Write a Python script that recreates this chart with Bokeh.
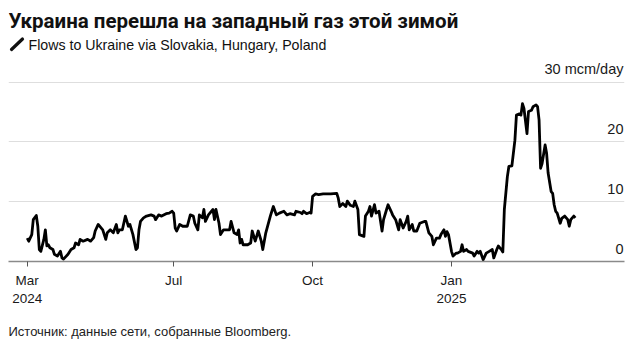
import pandas as pd
from bokeh.plotting import figure
from bokeh.models import Range1d, FixedTicker, Label, CustomJSTickFormatter, Title, Arrow
from bokeh.embed import file_html
from bokeh.resources import INLINE

# ---------------- data ----------------
dates = [
    "2024-03-26", "2024-03-27", "2024-03-29", "2024-03-30",
    "2024-04-01", "2024-04-02", "2024-04-03", "2024-04-04", "2024-04-06", "2024-04-07", "2024-04-08",
    "2024-04-09", "2024-04-10", "2024-04-12", "2024-04-13", "2024-04-15", "2024-04-17", "2024-04-18",
    "2024-04-19", "2024-04-22", "2024-04-24", "2024-04-26", "2024-04-27", "2024-04-29", "2024-04-30",
    "2024-05-02", "2024-05-05", "2024-05-07", "2024-05-09", "2024-05-10", "2024-05-12", "2024-05-15",
    "2024-05-17", "2024-05-18", "2024-05-20", "2024-05-22", "2024-05-24", "2024-05-25", "2024-05-26",
    "2024-05-28", "2024-05-30",
    "2024-06-01", "2024-06-02", "2024-06-04", "2024-06-06", "2024-06-07", "2024-06-08", "2024-06-09",
    "2024-06-11", "2024-06-13", "2024-06-16", "2024-06-18", "2024-06-19", "2024-06-21", "2024-06-23",
    "2024-06-26", "2024-06-28", "2024-06-30",
    "2024-07-01", "2024-07-02", "2024-07-03", "2024-07-05", "2024-07-07", "2024-07-10", "2024-07-12",
    "2024-07-14", "2024-07-15", "2024-07-17", "2024-07-18", "2024-07-20", "2024-07-21", "2024-07-22",
    "2024-07-24", "2024-07-27", "2024-07-28", "2024-07-29", "2024-07-31",
    "2024-08-01", "2024-08-03", "2024-08-07", "2024-08-08", "2024-08-10", "2024-08-12", "2024-08-13",
    "2024-08-14", "2024-08-15", "2024-08-16", "2024-08-19", "2024-08-21", "2024-08-22", "2024-08-24",
    "2024-08-26", "2024-08-28", "2024-08-29", "2024-08-31",
    "2024-09-03", "2024-09-05", "2024-09-07", "2024-09-09", "2024-09-12", "2024-09-14", "2024-09-16",
    "2024-09-19", "2024-09-20", "2024-09-23", "2024-09-24", "2024-09-25", "2024-09-27", "2024-09-29",
    "2024-09-30",
    "2024-10-01", "2024-10-03", "2024-10-05", "2024-10-08", "2024-10-13", "2024-10-17", "2024-10-18",
    "2024-10-19", "2024-10-21", "2024-10-23", "2024-10-24", "2024-10-26", "2024-10-28", "2024-10-29",
    "2024-10-31",
    "2024-11-01", "2024-11-04", "2024-11-05", "2024-11-07", "2024-11-08", "2024-11-09", "2024-11-11",
    "2024-11-12", "2024-11-14", "2024-11-16", "2024-11-17", "2024-11-19", "2024-11-20", "2024-11-22",
    "2024-11-23", "2024-11-25", "2024-11-27", "2024-11-28", "2024-11-30",
    "2024-12-02", "2024-12-03", "2024-12-04", "2024-12-06", "2024-12-07", "2024-12-09", "2024-12-11",
    "2024-12-14", "2024-12-15", "2024-12-17", "2024-12-19", "2024-12-20", "2024-12-22", "2024-12-24",
    "2024-12-25", "2024-12-27", "2024-12-28", "2024-12-29", "2024-12-30",
    "2025-01-01", "2025-01-02", "2025-01-04", "2025-01-05", "2025-01-07", "2025-01-08", "2025-01-09",
    "2025-01-11", "2025-01-12", "2025-01-15", "2025-01-16", "2025-01-18", "2025-01-19", "2025-01-20",
    "2025-01-22", "2025-01-24", "2025-01-26", "2025-01-28", "2025-01-29", "2025-01-31",
    "2025-02-01", "2025-02-03", "2025-02-04", "2025-02-05", "2025-02-07", "2025-02-08", "2025-02-10",
    "2025-02-12", "2025-02-13", "2025-02-15", "2025-02-16", "2025-02-17", "2025-02-18", "2025-02-20",
    "2025-02-21", "2025-02-23", "2025-02-24", "2025-02-26", "2025-02-27", "2025-02-28",
    "2025-03-01", "2025-03-02", "2025-03-04", "2025-03-05", "2025-03-06", "2025-03-08", "2025-03-09",
    "2025-03-10", "2025-03-11", "2025-03-12", "2025-03-14", "2025-03-15", "2025-03-17", "2025-03-19",
    "2025-03-20", "2025-03-21", "2025-03-23", "2025-03-24",
]

flows = [
    3.9, 3.4, 4.5, 7.0,
    7.7, 5.9, 2.0, 1.7, 3.7, 5.3, 2.6, 2.8, 2.3, 2.0, 1.2, 0.9, 1.7, 0.6, 0.4, 1.2, 2.0, 2.3, 3.1, 2.8, 3.7,
    3.4, 3.7, 3.4, 4.0, 5.1, 6.2, 5.3, 3.7, 4.8, 5.3, 4.8, 6.2, 4.8, 5.3, 5.3, 7.6,
    5.9, 6.2, 4.5, 2.0, 2.3, 5.3, 6.7, 7.3, 7.6, 7.8, 7.6, 7.0, 7.8, 7.6, 8.0, 8.1, 8.4,
    8.1, 5.6, 5.1, 6.2, 5.9, 5.9, 7.8, 7.6, 6.4, 5.3, 7.8, 7.3, 8.7, 6.7, 7.8, 8.7, 7.0, 8.7, 6.4,
    4.5, 5.3, 5.3, 6.7, 4.8, 4.5, 5.3, 3.1, 3.7, 2.8, 2.8, 3.1, 5.1, 3.4, 5.1, 3.4, 2.0, 4.8,
    7.6, 9.2, 7.8, 8.1, 8.4, 7.8, 8.0, 7.8, 8.4, 8.2, 8.0, 8.4, 8.0, 8.2, 8.1,
    10.9, 11.3, 11.2, 11.3, 11.3, 11.4, 10.6, 9.2, 9.7, 9.2, 10.1, 9.4, 9.2, 10.1, 8.7,
    4.5, 4.2, 7.6, 8.4, 9.2, 7.6, 9.5, 8.1, 8.4, 5.1, 7.0, 8.7, 9.5, 8.4, 7.8, 7.0, 5.3, 7.0, 5.6,
    6.7, 7.6, 5.3, 6.2, 5.1, 5.1, 6.4, 6.7, 6.7, 4.8, 4.2, 2.8, 3.9, 3.9, 4.5, 5.3, 4.2, 5.0, 4.5,
    1.7, 0.9, 1.4, 1.4, 1.7, 2.8, 1.7, 2.0, 1.7, 1.4, 0.9, 1.7, 1.4, 1.7, 0.3, 1.4, 1.7, 2.0, 0.6, 2.0,
    2.6, 2.0, 1.6, 8.7, 14.2, 15.9, 16.0, 20.3, 24.5, 24.7, 24.5, 26.4, 25.6, 21.4, 25.1, 25.3, 25.9,
    26.2, 25.9, 23.7,
    15.6, 16.4, 19.5, 18.1, 14.8, 11.7, 11.4, 9.5, 8.4, 8.1, 6.4, 7.2, 7.6, 7.0, 5.9, 7.0, 7.6, 7.3,
]
assert len(dates) == len(flows)

x_tick_dates = ["2024-03-26", "2024-07-01", "2024-10-01", "2025-01-01"]
x_tick_labels = ["Mar\n2024", "Jul", "Oct", "Jan\n2025"]
y_ticks = [0, 10, 20, 30]
y_tick_labels = ["0", "10", "20", "30 mcm/day"]

title_text = "Украина перешла на западный газ этой зимой"
subtitle_text = "Flows to Ukraine via Slovakia, Hungary, Poland"
source_text = "Источник: данные сети, собранные Bloomberg."


def ms(d):
    return pd.Timestamp(d).value / 1e6


x_start, x_end = ms("2024-03-13 14:00"), ms("2025-04-25 14:00")

# the frame reaches the top of the canvas so that the heading texts live inside it
p = figure(
    width=642, height=352, x_axis_type="datetime", y_axis_location=None,
    output_backend="svg", toolbar_location=None,
    x_range=Range1d(x_start, x_end), y_range=Range1d(0, 262 / 6),
    min_border_left=8, min_border_right=18, min_border_top=0, min_border_bottom=90,
    background_fill_color="white", border_fill_color="white",
)
p.outline_line_color = None
p.xgrid.grid_line_color = None
p.ygrid.ticker = FixedTicker(ticks=y_ticks)
p.ygrid.grid_line_color = "#dedede"
p.ygrid.grid_line_width = 1

tick_ms = [ms(d) for d in x_tick_dates]
ax = p.xaxis[0]
ax.ticker = FixedTicker(ticks=tick_ms)
ax.formatter = CustomJSTickFormatter(
    args=dict(tvals=tick_ms, tlabels=x_tick_labels),
    code="""
    for (let i = 0; i < tvals.length; i++) {
        if (Math.abs(tvals[i] - tick) < 1000) { return tlabels[i]; }
    }
    return "";
    """,
)
ax.axis_line_color = "#8a8a8a"
ax.axis_line_width = 1.5
ax.major_tick_line_color = "#555555"
ax.major_tick_line_width = 1
ax.major_tick_in = 0
ax.major_tick_out = 5
ax.minor_tick_line_color = None
ax.major_label_standoff = 6
ax.major_label_text_font = "Liberation Sans"
ax.major_label_text_font_size = "13.5px"
ax.major_label_text_color = "#1a1a1a"

p.add_layout(Title(
    text=source_text, align="left", text_font="Liberation Sans", text_font_size="13px",
    text_font_style="normal", text_color="#222222", standoff=27, text_line_height=1.0,
), "below")

p.line(pd.to_datetime(dates), flows, line_color="black", line_width=2.8, line_join="round")

for t, lab in zip(y_ticks, y_tick_labels):
    p.add_layout(Label(
        x=x_end, y=t, text=lab, x_offset=-1, y_offset=13,
        text_align="right", text_baseline="alphabetic",
        text_font="Liberation Sans", text_font_size="14.5px", text_color="#1a1a1a",
    ))

# heading texts (screen units, measured from the frame's bottom-left corner)
p.add_layout(Label(
    x=0, y=241, x_units="screen", y_units="screen", text=title_text,
    text_font="Roboto", text_font_style="bold", text_font_size="20.5px",
    text_color="#111111", text_baseline="middle",
))
p.add_layout(Label(
    x=20, y=216.5, x_units="screen", y_units="screen", text=subtitle_text,
    text_font="Liberation Sans", text_font_size="14.2px", text_color="#111111",
    text_baseline="middle",
))
p.add_layout(Arrow(
    end=None, x_start=3, y_start=212, x_end=14, y_end=222.5,
    start_units="screen", end_units="screen",
    line_color="#111111", line_width=3.2, line_cap="round",
))

open("out.html", "w").write(file_html(p, INLINE))
